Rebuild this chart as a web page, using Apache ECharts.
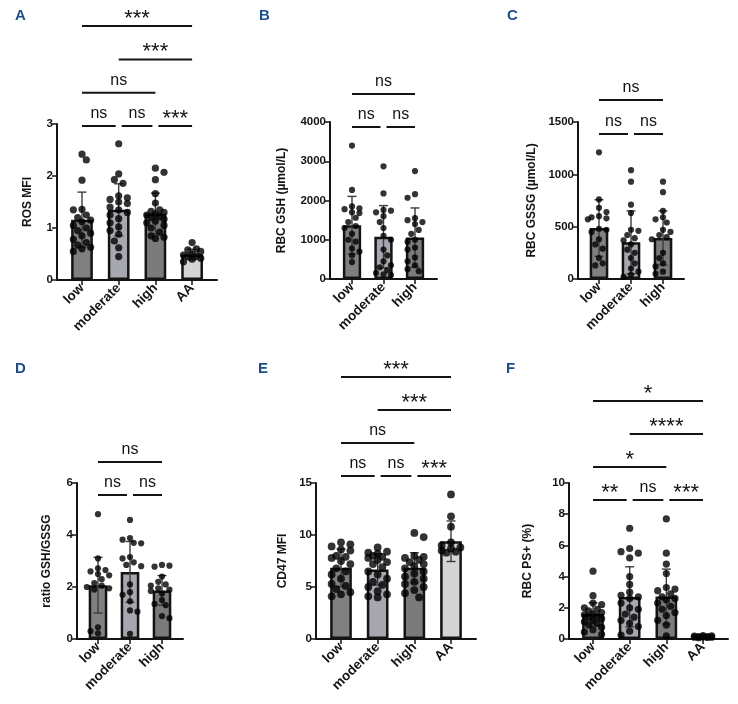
<!DOCTYPE html>
<html><head><meta charset="utf-8">
<script src="https://cdn.jsdelivr.net/npm/echarts@6/dist/echarts.min.js"></script>
<style>html,body{margin:0;padding:0;background:#fff}#c{width:738px;height:704px}</style>
</head><body><div id="c"></div>
<script>
// ---------- data ----------
const cats4 = ['low', 'moderate', 'high', 'AA'];
const cats3 = ['low', 'moderate', 'high'];

// A: ROS MFI
const rosLow = [2.42, 2.31, 1.92, 1.36, 1.35, 1.25, 1.2, 1.15, 1.12, 1.05, 1.0, 0.95, 0.9, 0.85, 0.78, 0.72, 0.67, 0.63, 0.6, 0.55];
const rosModerate = [2.62, 2.04, 1.93, 1.86, 1.62, 1.58, 1.55, 1.5, 1.47, 1.4, 1.35, 1.3, 1.25, 1.18, 1.1, 1.02, 0.95, 0.88, 0.75, 0.62, 0.45];
const rosHigh = [2.15, 2.07, 1.93, 1.66, 1.48, 1.35, 1.32, 1.3, 1.27, 1.25, 1.22, 1.2, 1.17, 1.13, 1.1, 1.05, 1.0, 0.92, 0.85, 0.82, 0.8];
const rosAA = [0.72, 0.6, 0.58, 0.55, 0.5, 0.48, 0.46, 0.45, 0.42, 0.4, 0.35];
const rosMean = [1.16, 1.35, 1.28, 0.49];
const rosSD = [0.53, 0.5, 0.39, 0.1];
const rosTicks = [0, 1, 2, 3];
const rosSig = [['low','moderate','ns',0],['moderate','high','ns',0],['high','AA','***',0],['low','high','ns',1],['moderate','AA','***',2],['low','AA','***',3]];

// B: RBC GSH
const gshLow = [3400, 2270, 1850, 1800, 1780, 1700, 1680, 1560, 1450, 1350, 1300, 1150, 1000, 950, 780, 700, 600, 430];
const gshModerate = [2870, 2180, 1760, 1740, 1700, 1600, 1450, 1300, 1100, 1000, 750, 600, 450, 350, 300, 220, 150, 120, 100];
const gshHigh = [2750, 2160, 2070, 1550, 1500, 1450, 1400, 1250, 1150, 1000, 950, 800, 750, 550, 450, 350, 250, 200];
const gshMean = [1370, 1075, 1055];
const gshSD = [735, 795, 755];
const gshTicks = [0, 1000, 2000, 3000, 4000];
const gshSig = [['low','moderate','ns',0],['moderate','high','ns',0],['low','high','ns',1]];

// C: RBC GSSG
const gssgLow = [1210, 760, 680, 640, 600, 590, 580, 570, 480, 470, 450, 380, 330, 290, 200, 150, 130];
const gssgModerate = [1040, 930, 710, 630, 470, 460, 420, 390, 370, 330, 280, 250, 200, 150, 100, 70, 40, 20];
const gssgHigh = [930, 830, 650, 590, 570, 540, 470, 450, 420, 400, 380, 250, 200, 150, 120, 70, 50];
const gssgMean = [487, 350, 392];
const gssgSD = [270, 300, 258];
const gssgTicks = [0, 500, 1000, 1500];
const gssgSig = [['low','moderate','ns',0],['moderate','high','ns',0],['low','high','ns',1]];

// D: ratio GSH/GSSG
const ratioLow = [4.8, 3.1, 2.72, 2.65, 2.6, 2.5, 2.45, 2.3, 2.15, 2.05, 2.0, 1.95, 1.9, 0.45, 0.3, 0.22];
const ratioModerate = [4.58, 3.88, 3.82, 3.7, 3.68, 3.15, 3.1, 2.95, 2.85, 2.8, 2.1, 1.8, 1.7, 1.45, 1.1, 1.05, 0.2];
const ratioHigh = [2.85, 2.82, 2.78, 2.4, 2.2, 2.1, 2.05, 1.95, 1.9, 1.85, 1.75, 1.5, 1.35, 1.3, 0.88, 0.8];
const ratioMean = [2.07, 2.58, 1.87];
const ratioSD = [1.07, 1.17, 0.57];
const ratioTicks = [0, 2, 4, 6];
const ratioSig = [['low','moderate','ns',0],['moderate','high','ns',0],['low','high','ns',1]];

// E: CD47 MFI
const cd47Low = [9.3, 9.1, 8.9, 8.6, 8.5, 8.0, 7.9, 7.8, 7.5, 7.2, 6.8, 6.5, 6.2, 5.8, 5.3, 5.1, 4.8, 4.5, 4.3, 4.1];
const cd47Moderate = [8.8, 8.4, 8.3, 8.2, 8.0, 7.9, 7.8, 7.6, 7.4, 7.2, 6.9, 6.5, 6.2, 5.8, 5.5, 5.2, 5.0, 4.6, 4.3, 4.1, 4.0];
const cd47High = [10.2, 9.8, 8.0, 7.9, 7.8, 7.6, 7.4, 7.2, 7.0, 6.8, 6.5, 6.3, 6.0, 5.8, 5.5, 5.3, 5.0, 4.7, 4.4, 4.0];
const cd47AA = [13.9, 11.8, 10.8, 9.3, 9.0, 8.8, 8.7, 8.5, 8.4, 8.3];
const cd47Mean = [6.84, 6.68, 6.85, 9.4];
const cd47SD = [1.8, 1.5, 1.45, 1.95];
const cd47Ticks = [0, 5, 10, 15];
const cd47Sig = [['low','moderate','ns',0],['moderate','high','ns',0],['high','AA','***',0],['low','high','ns',1],['moderate','AA','***',2],['low','AA','***',3]];

// F: RBC PS+ (%)
const psLow = [4.35, 2.78, 2.3, 2.2, 2.0, 1.9, 1.8, 1.7, 1.6, 1.55, 1.45, 1.4, 1.3, 1.2, 1.1, 1.0, 0.9, 0.75, 0.6, 0.45, 0.3];
const psModerate = [7.1, 5.8, 5.6, 5.5, 5.2, 4.0, 3.5, 3.0, 2.8, 2.7, 2.6, 2.3, 2.0, 1.9, 1.6, 1.4, 1.2, 1.0, 0.8, 0.5, 0.25];
const psHigh = [7.7, 5.5, 4.8, 4.2, 3.3, 3.2, 3.1, 2.9, 2.7, 2.6, 2.5, 2.3, 2.1, 1.9, 1.7, 1.5, 1.2, 0.9, 0.2];
const psAA = [0.22, 0.2, 0.18, 0.16, 0.15, 0.14, 0.12, 0.12, 0.1, 0.08];
const psMean = [1.6, 2.7, 2.72, 0.15];
const psSD = [0.72, 1.93, 1.76, 0.05];
const psTicks = [0, 2, 4, 6, 8, 10];
const psSig = [['low','moderate','**',0],['moderate','high','ns',0],['high','AA','***',0],['low','high','*',1],['moderate','AA','****',2],['low','AA','*',3]];

// ---------- layout & style ----------
const FONT = "'Liberation Sans', Arial, sans-serif";
const barColors = ['#808080', '#a7a7af', '#7b7b7b', '#d5d5d5'];
const INK = '#141414';

const panels = [
  { letter:'A', name:'ROS MFI', cats:cats4, groups:[rosLow,rosModerate,rosHigh,rosAA], mean:rosMean, sd:rosSD, ticks:rosTicks, sig:rosSig,
    L:{ax:57, xEnd:217, y0:280, yTop:124, c0:82, step:36.7, rowBase:126, rowGap:33.3, nameGap:23, dot:7.2, lx:20, ly:16 } },
  { letter:'B', name:'RBC GSH (µmol/L)', cats:cats3, groups:[gshLow,gshModerate,gshHigh], mean:gshMean, sd:gshSD, ticks:gshTicks, sig:gshSig,
    L:{ax:330, xEnd:437, y0:279, yTop:122, c0:352, step:31.5, rowBase:127, rowGap:33, nameGap:42, dot:6.2, lx:264, ly:16 } },
  { letter:'C', name:'RBC GSSG (µmol/L)', cats:cats3, groups:[gssgLow,gssgModerate,gssgHigh], mean:gssgMean, sd:gssgSD, ticks:gssgTicks, sig:gssgSig,
    L:{ax:578, xEnd:684, y0:279, yTop:122, c0:599, step:32, rowBase:134, rowGap:34, nameGap:40, dot:6.2, lx:512, ly:16 } },
  { letter:'D', name:'ratio GSH/GSSG', cats:cats3, groups:[ratioLow,ratioModerate,ratioHigh], mean:ratioMean, sd:ratioSD, ticks:ratioTicks, sig:ratioSig,
    L:{ax:77, xEnd:183, y0:639, yTop:483, c0:98, step:32, rowBase:495, rowGap:33, nameGap:24, dot:6.2, lx:20, ly:369 } },
  { letter:'E', name:'CD47 MFI', cats:cats4, groups:[cd47Low,cd47Moderate,cd47High,cd47AA], mean:cd47Mean, sd:cd47SD, ticks:cd47Ticks, sig:cd47Sig,
    L:{ax:316, xEnd:476, y0:639, yTop:483, c0:341, step:36.67, rowBase:476, rowGap:33, nameGap:27, dot:7.8, lx:263, ly:369 } },
  { letter:'F', name:'RBC PS+ (%)', cats:cats4, groups:[psLow,psModerate,psHigh,psAA], mean:psMean, sd:psSD, ticks:psTicks, sig:psSig,
    L:{ax:569, xEnd:728, y0:639, yTop:483, c0:593, step:36.67, rowBase:500, rowGap:33, nameGap:35, dot:7.2, lx:511, ly:369 } }
];

// simple beeswarm layout (pixel space) -> x offsets in category units
function swarm(vals, pxY, pxX, d, maxHalf) {
  const order = vals.map((v, i) => i).sort((a, b) => vals[b] - vals[a]);
  const placed = [], off = new Array(vals.length).fill(0);
  const s = d * 0.6;
  let flip = 1;
  order.forEach(i => {
    const y = vals[i] * pxY;
    const cands = [0];
    for (let k = 1; k * s <= maxHalf; k++) { cands.push(-flip * k * s, flip * k * s); }
    let best = 0, bestD = -1;
    for (const c of cands) {
      let m = Infinity;
      for (const p of placed) { const dd = Math.hypot(p.x - c, p.y - y); if (dd < m) m = dd; }
      if (m >= d * 0.95) { best = c; bestD = Infinity; break; }
      if (m > bestD) { bestD = m; best = c; }
    }
    flip = -flip;
    placed.push({ x: best, y });
    off[i] = best / pxX;
  });
  return off;
}

const option = { animation:false, grid:[], xAxis:[], yAxis:[], series:[], title:[] };

panels.forEach((P, k) => {
  const L = P.L, n = P.cats.length;
  const yMax = P.ticks[P.ticks.length - 1];
  const yInt = P.ticks[1] - P.ticks[0];
  const h = L.y0 - L.yTop;
  const g2Left = L.c0 - L.step / 2, g2W = L.step * n;
  option.grid.push({ left:L.ax, top:L.yTop, width:L.xEnd - L.ax, height:h });
  option.grid.push({ left:g2Left, top:L.yTop, width:g2W, height:h });
  const gA = 2 * k, gB = 2 * k + 1;
  const xi = option.xAxis.length, yi = option.yAxis.length;
  option.xAxis.push({ type:'value', gridIndex:gA, min:0, max:1, axisLine:{show:true, onZero:false, lineStyle:{color:INK, width:2}},
    axisTick:{show:false}, axisLabel:{show:false}, splitLine:{show:false} });
  option.xAxis.push({ type:'category', gridIndex:gB, data:P.cats, axisLine:{show:false},
    axisTick:{show:true, alignWithLabel:true, length:5, lineStyle:{color:INK, width:1.5}},
    axisLabel:{interval:0, rotate:45, margin:6, fontSize:13.5, fontWeight:'bold', color:INK, fontFamily:FONT}, splitLine:{show:false} });
  option.xAxis.push({ type:'value', gridIndex:gB, min:-0.5, max:n - 0.5, show:false });
  option.yAxis.push({ type:'value', gridIndex:gA, min:0, max:yMax, interval:yInt,
    axisLine:{show:true, lineStyle:{color:INK, width:2}}, axisTick:{show:true, length:5, lineStyle:{color:INK, width:1.5}},
    axisLabel:{fontSize:11.5, fontWeight:'bold', color:INK, margin:4, fontFamily:FONT, formatter:v => String(v)}, splitLine:{show:false},
    name:P.name, nameLocation:'middle', nameGap:L.nameGap, nameTextStyle:{fontSize:12, fontWeight:'bold', color:INK, fontFamily:FONT} });
  option.yAxis.push({ type:'value', gridIndex:gB, min:0, max:yMax, show:false });

  const barW = L.step * 0.66 - 2.5;
  option.series.push({ type:'bar', xAxisIndex:xi + 1, yAxisIndex:yi + 1, barWidth:barW, z:2,
    data:P.mean.map((m, i) => ({ value:m, itemStyle:{ color:barColors[i], borderColor:INK, borderWidth:2.5 } })) });

  option.series.push({ type:'custom', xAxisIndex:xi + 2, yAxisIndex:yi + 1, z:3,
    data:P.mean.map((m, i) => [i, m, P.sd[i]]),
    renderItem:(params, api) => {
      const i = api.value(0), m = api.value(1), s = api.value(2);
      const t = api.coord([i, m + s]), b = api.coord([i, m - s]);
      const x = t[0], hw = 4.5, st = { stroke:'#3c3c3c', lineWidth:1.4 };
      return { type:'group', children:[
        { type:'line', shape:{ x1:x, y1:t[1], x2:x, y2:b[1] }, style:st },
        { type:'line', shape:{ x1:x - hw, y1:t[1], x2:x + hw, y2:t[1] }, style:st },
        { type:'line', shape:{ x1:x - hw, y1:b[1], x2:x + hw, y2:b[1] }, style:st } ] };
    } });

  const pxY = h / yMax, pxX = L.step;
  const pts = [];
  P.groups.forEach((vals, i) => {
    const off = swarm(vals, pxY, pxX, L.dot, barW / 2 + 2);
    vals.forEach((v, j) => pts.push([i + off[j], v]));
  });
  option.series.push({ type:'scatter', xAxisIndex:xi + 2, yAxisIndex:yi + 1, z:4, symbolSize:L.dot,
    itemStyle:{ color:'#000' }, data:pts });

  option.series.push({ type:'custom', xAxisIndex:xi + 2, yAxisIndex:yi + 1, z:5, clip:false,
    data:P.sig.map(b => [P.cats.indexOf(b[0]), P.cats.indexOf(b[1])]),
    renderItem:(params, api) => {
      const b = P.sig[params.dataIndex];
      const a = api.value(0), c = api.value(1);
      let x1 = api.coord([a, 0])[0], x2 = api.coord([c, 0])[0];
      if (c - a === 1) { if (a > 0) x1 += 3; if (c < n - 1) x2 -= 3; }
      const y = L.rowBase - b[3] * L.rowGap;
      const star = b[2].charAt(0) === '*';
      return { type:'group', children:[
        { type:'line', shape:{ x1, y1:y, x2, y2:y }, style:{ stroke:INK, lineWidth:2 } },
        { type:'text', x:(x1 + x2) / 2, y: star ? y - 7 : y - 12,
          style:{ text:b[2], align:'center', verticalAlign:'middle', fontSize: star ? 22 : 16, fontFamily:FONT, fill:INK } } ] };
    } });

  option.title.push({ text:P.letter, left:L.lx - 5, top:L.ly - 8, padding:0,
    textStyle:{ color:'#1d4f8e', fontSize:15, fontWeight:'bold', fontFamily:FONT } });
});

const chart = echarts.init(document.getElementById('c'), null, { renderer:'canvas' });
chart.setOption(option);
</script>
</body></html>
